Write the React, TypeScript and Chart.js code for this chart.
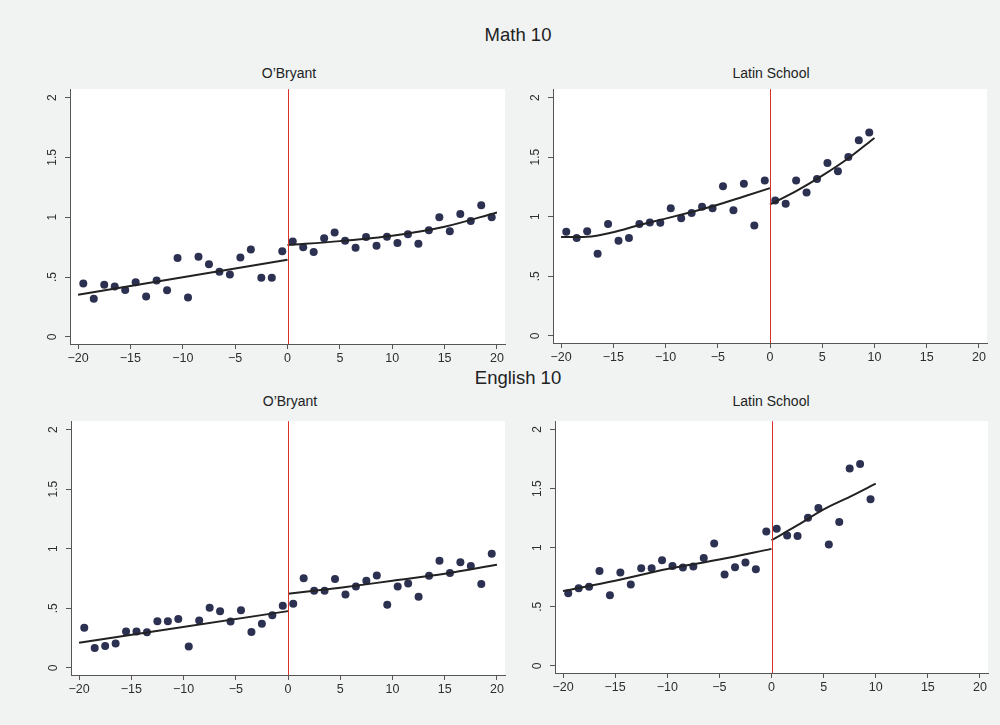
import React, { useEffect, useRef } from "react";
import { Chart, registerables } from "chart.js";

Chart.register(...registerables);

// ---------- tick labels ----------
const xTickValues = [-20, -15, -10, -5, 0, 5, 10, 15, 20];
const xTickLabels = ["\u221220", "\u221215", "\u221210", "\u22125", "0", "5", "10", "15", "20"];
const yTickValues = [0, 0.5, 1, 1.5, 2];
const yTickLabels = ["0", ".5", "1", "1.5", "2"];
const cutoff = 0;

// ---------- bins (distance from cutoff) ----------
const binsBefore = [-19.5, -18.5, -17.5, -16.5, -15.5, -14.5, -13.5, -12.5, -11.5, -10.5, -9.5, -8.5, -7.5, -6.5, -5.5, -4.5, -3.5, -2.5, -1.5, -0.5];
const binsAfter = [0.5, 1.5, 2.5, 3.5, 4.5, 5.5, 6.5, 7.5, 8.5, 9.5, 10.5, 11.5, 12.5, 13.5, 14.5, 15.5, 16.5, 17.5, 18.5, 19.5];
const binsAfterLatin = [0.5, 1.5, 2.5, 3.5, 4.5, 5.5, 6.5, 7.5, 8.5, 9.5];

// ---------- Math 10 ----------
const mathObryantBefore = [0.445, 0.318, 0.435, 0.421, 0.391, 0.456, 0.337, 0.470, 0.389, 0.659, 0.329, 0.669, 0.607, 0.543, 0.521, 0.664, 0.731, 0.494, 0.494, 0.715];
const mathObryantAfter = [0.796, 0.748, 0.710, 0.823, 0.872, 0.804, 0.745, 0.834, 0.761, 0.837, 0.785, 0.858, 0.777, 0.891, 0.999, 0.883, 1.026, 0.969, 1.099, 0.999];
const mathLatinBefore = [0.873, 0.821, 0.878, 0.688, 0.938, 0.799, 0.821, 0.938, 0.951, 0.949, 1.070, 0.986, 1.030, 1.084, 1.070, 1.255, 1.054, 1.276, 0.927, 1.304];
const mathLatinAfter = [1.136, 1.108, 1.304, 1.203, 1.317, 1.450, 1.382, 1.501, 1.642, 1.707];

// ---------- English 10 ----------
const engObryantBefore = [0.336, 0.167, 0.183, 0.204, 0.306, 0.306, 0.298, 0.392, 0.392, 0.409, 0.180, 0.398, 0.505, 0.476, 0.390, 0.484, 0.301, 0.371, 0.441, 0.522];
const engObryantAfter = [0.538, 0.753, 0.648, 0.648, 0.745, 0.616, 0.683, 0.731, 0.774, 0.530, 0.683, 0.707, 0.597, 0.772, 0.898, 0.796, 0.887, 0.855, 0.704, 0.957];
const engLatinBefore = [0.614, 0.657, 0.670, 0.802, 0.598, 0.791, 0.689, 0.826, 0.826, 0.894, 0.845, 0.832, 0.840, 0.912, 1.036, 0.773, 0.834, 0.875, 0.818, 1.136];
const engLatinAfter = [1.160, 1.104, 1.098, 1.254, 1.335, 1.028, 1.217, 1.669, 1.709, 1.410];

// ---------- fitted curves ----------
const fitBeforeX2 = [-20, 0];
const fitAfterX5 = [0, 5, 10, 15, 20];
const fitBeforeX9 = [-20, -17.5, -15, -12.5, -10, -7.5, -5, -2.5, 0];
const fitBeforeX5 = [-20, -15, -10, -5, 0];
const fitAfterLatinX = [0, 2.5, 5, 7.5, 10];

const mathObryantFitBefore = [0.351, 0.645];
const mathObryantFitAfter = [0.767, 0.80, 0.845, 0.92, 1.04];
const mathLatinFitBefore = [0.829, 0.832, 0.87, 0.93, 0.984, 1.04, 1.10, 1.17, 1.24];
const mathLatinFitAfter = [1.103, 1.214, 1.344, 1.49, 1.661];
const engObryantFitBefore = [0.21, 0.476];
const engObryantFitAfter = [0.621, 0.672, 0.731, 0.79, 0.866];
const engLatinFitBefore = [0.633, 0.72, 0.82, 0.90, 0.99];
const engLatinFitAfter = [1.063, 1.19, 1.324, 1.43, 1.542];

const X_MIN = -20.77;
const X_MAX = 20.77;
const Y_MIN = -0.06;
const Y_MAX = 2.07;

const DOT = "#2c3152";
const FIT = "#222222";
const CUT = "#d8312a";
const AXIS = "#555555";
const FONT = "'Liberation Sans', Arial, sans-serif";

const zip = (xs: number[], ys: number[]) => xs.map((x, i) => ({ x, y: ys[i] }));

type Box = { l: number; t: number; r: number; b: number };

type PanelProps = {
  box: Box;
  bx: number[];
  by: number[];
  ax: number[];
  ay: number[];
  fbx: number[];
  fby: number[];
  fax: number[];
  fay: number[];
};

const Y_W = 38;
const X_H = 26;
const PAD_T = 2;
const PAD_R = 12;

const whiteArea = {
  id: "whiteArea",
  beforeDraw(chart: any) {
    const { ctx, chartArea } = chart;
    ctx.save();
    ctx.fillStyle = "#ffffff";
    ctx.fillRect(chartArea.left, chartArea.top, chartArea.right - chartArea.left, chartArea.bottom - chartArea.top);
    ctx.restore();
  },
};

const cutLine = {
  id: "cutLine",
  afterDatasetsDraw(chart: any) {
    const { ctx, chartArea, scales } = chart;
    const px = Math.round(scales.x.getPixelForValue(cutoff)) + 0.5;
    ctx.save();
    ctx.strokeStyle = CUT;
    ctx.lineWidth = 1;
    ctx.beginPath();
    ctx.moveTo(px, chartArea.top);
    ctx.lineTo(px, chartArea.bottom);
    ctx.stroke();
    ctx.restore();
  },
};

function Panel(p: PanelProps) {
  const ref = useRef<HTMLCanvasElement>(null);
  const w = p.box.r - p.box.l + Y_W + PAD_R;
  const h = p.box.b - p.box.t + PAD_T + X_H;
  useEffect(() => {
    if (!ref.current) return;
    const chart = new Chart(ref.current, {
      type: "scatter",
      data: {
        datasets: [
          {
            data: zip(p.fbx, p.fby),
            showLine: true,
            borderColor: FIT,
            borderWidth: 2,
            pointRadius: 0,
            cubicInterpolationMode: "monotone",
          },
          {
            data: zip(p.fax, p.fay),
            showLine: true,
            borderColor: FIT,
            borderWidth: 2,
            pointRadius: 0,
            cubicInterpolationMode: "monotone",
          },
          {
            data: zip(p.bx, p.by),
            backgroundColor: DOT,
            borderColor: DOT,
            pointRadius: 4,
            pointBorderWidth: 0,
          },
          {
            data: zip(p.ax, p.ay),
            backgroundColor: DOT,
            borderColor: DOT,
            pointRadius: 4,
            pointBorderWidth: 0,
          },
        ],
      } as any,
      options: {
        animation: false,
        responsive: false,
        devicePixelRatio: 1,
        layout: { padding: { top: PAD_T, right: PAD_R, left: 0, bottom: 0 } },
        plugins: { legend: { display: false }, tooltip: { enabled: false }, title: { display: false } },
        scales: {
          x: {
            type: "linear",
            min: X_MIN,
            max: X_MAX,
            afterBuildTicks: (s: any) => {
              s.ticks = xTickValues.map((v) => ({ value: v }));
            },
            afterFit: (s: any) => {
              s.height = X_H;
            },
            ticks: {
              autoSkip: false,
              maxRotation: 0,
              minRotation: 0,
              padding: 2,
              color: "#2e2e2e",
              font: { family: FONT, size: 12.5 },
              callback: (v: any) => xTickLabels[xTickValues.indexOf(Number(v))] ?? "",
            },
            grid: { drawOnChartArea: false, drawTicks: true, tickLength: 5, color: AXIS },
            border: { display: true, color: AXIS, width: 1 },
          },
          y: {
            type: "linear",
            min: Y_MIN,
            max: Y_MAX,
            afterBuildTicks: (s: any) => {
              s.ticks = yTickValues.map((v) => ({ value: v }));
            },
            afterFit: (s: any) => {
              s.width = Y_W;
            },
            ticks: {
              autoSkip: false,
              minRotation: 90,
              maxRotation: 90,
              crossAlign: "center",
              padding: 4,
              color: "#2e2e2e",
              font: { family: FONT, size: 12 },
              callback: (v: any) => yTickLabels[yTickValues.indexOf(Number(v))] ?? "",
            },
            grid: { drawOnChartArea: false, drawTicks: true, tickLength: 5, color: AXIS },
            border: { display: true, color: AXIS, width: 1 },
          },
        },
      } as any,
      plugins: [whiteArea, cutLine],
    });
    return () => chart.destroy();
  }, []);
  return (
    <canvas
      ref={ref}
      width={w}
      height={h}
      style={{ position: "absolute", left: p.box.l - Y_W, top: p.box.t - PAD_T, width: w, height: h }}
    />
  );
}

function Label(props: { text: string; x: number; y: number; size: number }) {
  return (
    <div
      style={{
        position: "absolute",
        left: props.x,
        top: props.y,
        transform: "translate(-50%, -50%)",
        fontFamily: FONT,
        fontSize: props.size,
        color: "#222222",
        whiteSpace: "nowrap",
        lineHeight: 1,
      }}
    >
      {props.text}
    </div>
  );
}

export default function App() {
  return (
    <div
      style={{
        position: "absolute",
        left: 0,
        top: 0,
        width: 1000,
        height: 725,
        background: "#f0f3f2",
        overflow: "hidden",
      }}
    >
      <Label text="Math 10" x={518} y={35} size={18.5} />
      <Label text="English 10" x={518} y={378} size={18.5} />
      <Label text="O’Bryant" x={289} y={73} size={14} />
      <Label text="Latin School" x={771} y={73} size={14} />
      <Label text="O’Bryant" x={290} y={401} size={14} />
      <Label text="Latin School" x={771} y={401} size={14} />

      <Panel
        box={{ l: 70, t: 80, r: 505, b: 344 }}
        bx={binsBefore}
        by={mathObryantBefore}
        ax={binsAfter}
        ay={mathObryantAfter}
        fbx={fitBeforeX2}
        fby={mathObryantFitBefore}
        fax={fitAfterX5}
        fay={mathObryantFitAfter}
      />
      <Panel
        box={{ l: 553, t: 80, r: 987, b: 343 }}
        bx={binsBefore}
        by={mathLatinBefore}
        ax={binsAfterLatin}
        ay={mathLatinAfter}
        fbx={fitBeforeX9}
        fby={mathLatinFitBefore}
        fax={fitAfterLatinX}
        fay={mathLatinFitAfter}
      />
      <Panel
        box={{ l: 71, t: 412, r: 505, b: 675 }}
        bx={binsBefore}
        by={engObryantBefore}
        ax={binsAfter}
        ay={engObryantAfter}
        fbx={fitBeforeX2}
        fby={engObryantFitBefore}
        fax={fitAfterX5}
        fay={engObryantFitAfter}
      />
      <Panel
        box={{ l: 555, t: 412, r: 988, b: 673 }}
        bx={binsBefore}
        by={engLatinBefore}
        ax={binsAfterLatin}
        ay={engLatinAfter}
        fbx={fitBeforeX5}
        fby={engLatinFitBefore}
        fax={fitAfterLatinX}
        fay={engLatinFitAfter}
      />
    </div>
  );
}
